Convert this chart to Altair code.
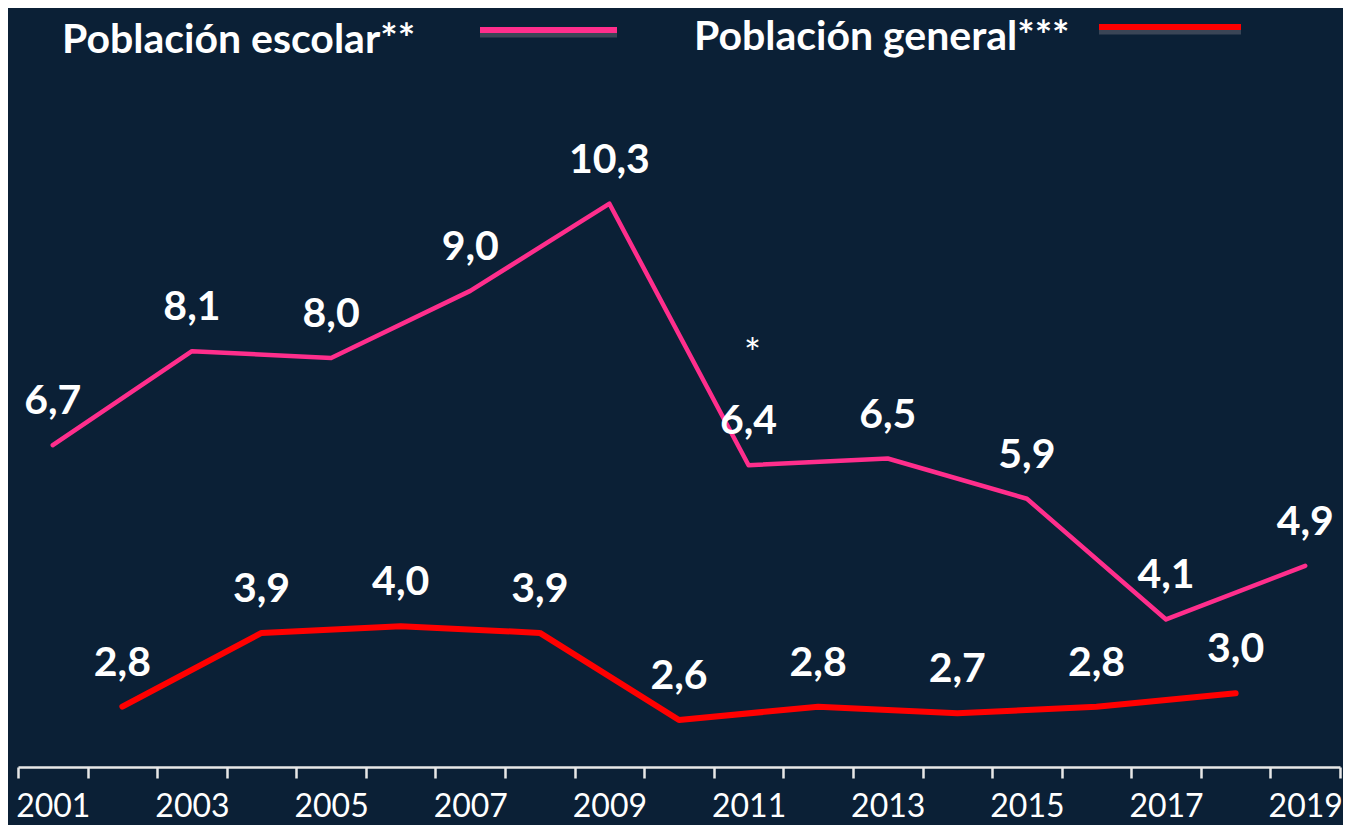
import altair as alt
import pandas as pd

# ---- data ----
all_years = list(range(2001, 2020))
years_escolar = [2001, 2003, 2005, 2007, 2009, 2011, 2013, 2015, 2017, 2019]
escolar = [6.7, 8.1, 8.0, 9.0, 10.3, 6.4, 6.5, 5.9, 4.1, 4.9]
years_general = [2002, 2004, 2006, 2008, 2010, 2012, 2014, 2016, 2018]
general = [2.8, 3.9, 4.0, 3.9, 2.6, 2.8, 2.7, 2.8, 3.0]
series_names = ["Población escolar**", "Población general***"]
note_year = 2011
note_text = "*"

BG = "#0b2036"
PINK = "#ff2e8c"
RED = "#ff0000"
FONT = "Lato"

def fmt(v):
    return f"{v:.1f}".replace(".", ",")

df_esc = pd.DataFrame({"year": years_escolar, "value": escolar,
                       "label": [fmt(v) for v in escolar]})
df_gen = pd.DataFrame({"year": years_general, "value": general,
                       "label": [fmt(v) for v in general]})
df_note = pd.DataFrame({"year": [note_year],
                        "value": [escolar[years_escolar.index(note_year)]],
                        "label": [note_text]})

x_enc = alt.X("year:O",
              scale=alt.Scale(type="band", domain=all_years, paddingInner=0, paddingOuter=0),
              axis=alt.Axis(title=None, tickBand="extent", labelAngle=0,
                            labelExpr="datum.value % 2 == 1 ? datum.label : ''",
                            labelFont=FONT, labelFontSize=32, labelColor="#ffffff",
                            labelPadding=13, domainColor="#e8e8e8", domainWidth=2.5,
                            tickColor="#e8e8e8", tickWidth=2.5, tickSize=11, grid=False))
y_enc = alt.Y("value:Q", scale=alt.Scale(domain=[1.9, 12.1], nice=False, zero=False),
              axis=None)

line_esc = alt.Chart(df_esc).mark_line(color=PINK, strokeWidth=4.5, strokeCap="round",
                                       strokeJoin="round").encode(x=x_enc, y=y_enc)
line_gen = alt.Chart(df_gen).mark_line(color=RED, strokeWidth=6, strokeCap="round",
                                       strokeJoin="round").encode(x=x_enc, y=y_enc)

lab_style = dict(font=FONT, fontSize=41, fontWeight="bold", color="#ffffff",
                 baseline="alphabetic", align="center", dy=-31)
text_esc = alt.Chart(df_esc).mark_text(**lab_style).encode(x=x_enc, y=y_enc, text="label:N")
text_gen = alt.Chart(df_gen).mark_text(**lab_style).encode(x=x_enc, y=y_enc, text="label:N")
text_note = alt.Chart(df_note).mark_text(font=FONT, fontSize=40, color="#ffffff",
                                         baseline="alphabetic", align="center",
                                         dx=4, dy=-97).encode(x=x_enc, y=y_enc, text="label:N")

# ---- legend (drawn manually) ----
leg_txt1 = alt.Chart(pd.DataFrame({"t": [series_names[0]]})).mark_text(
    font=FONT, fontSize=41, fontWeight="bold", color="#ffffff", align="left",
    baseline="alphabetic").encode(x=alt.value(44), y=alt.value(-30), text="t:N")
leg_txt2 = alt.Chart(pd.DataFrame({"t": [series_names[1]]})).mark_text(
    font=FONT, fontSize=41, fontWeight="bold", color="#ffffff", align="left",
    baseline="alphabetic").encode(x=alt.value(676), y=alt.value(-33), text="t:N")

shadow1 = alt.Chart(pd.DataFrame({"a": [0]})).mark_rule(color="#3a4556", strokeWidth=5).encode(
    x=alt.value(462), x2=alt.value(599), y=alt.value(-48))
swatch1 = alt.Chart(pd.DataFrame({"a": [0]})).mark_rule(color=PINK, strokeWidth=6).encode(
    x=alt.value(462), x2=alt.value(599), y=alt.value(-53))
shadow2 = alt.Chart(pd.DataFrame({"a": [0]})).mark_rule(color="#3a4556", strokeWidth=5).encode(
    x=alt.value(1081), x2=alt.value(1223), y=alt.value(-51))
swatch2 = alt.Chart(pd.DataFrame({"a": [0]})).mark_rule(color=RED, strokeWidth=6).encode(
    x=alt.value(1081), x2=alt.value(1223), y=alt.value(-56))

chart = alt.layer(
    line_esc, line_gen, text_esc, text_gen, text_note,
    leg_txt1, leg_txt2, shadow1, swatch1, shadow2, swatch2
).properties(
    width=1322, height=684,
    autosize=alt.AutoSizeParams(type="none"),
    padding={"left": 10, "top": 75, "right": 3, "bottom": 58},
    background=BG,
).configure_view(stroke=None)

chart.save("out.html", embed_options={"renderer": "svg", "actions": False})
